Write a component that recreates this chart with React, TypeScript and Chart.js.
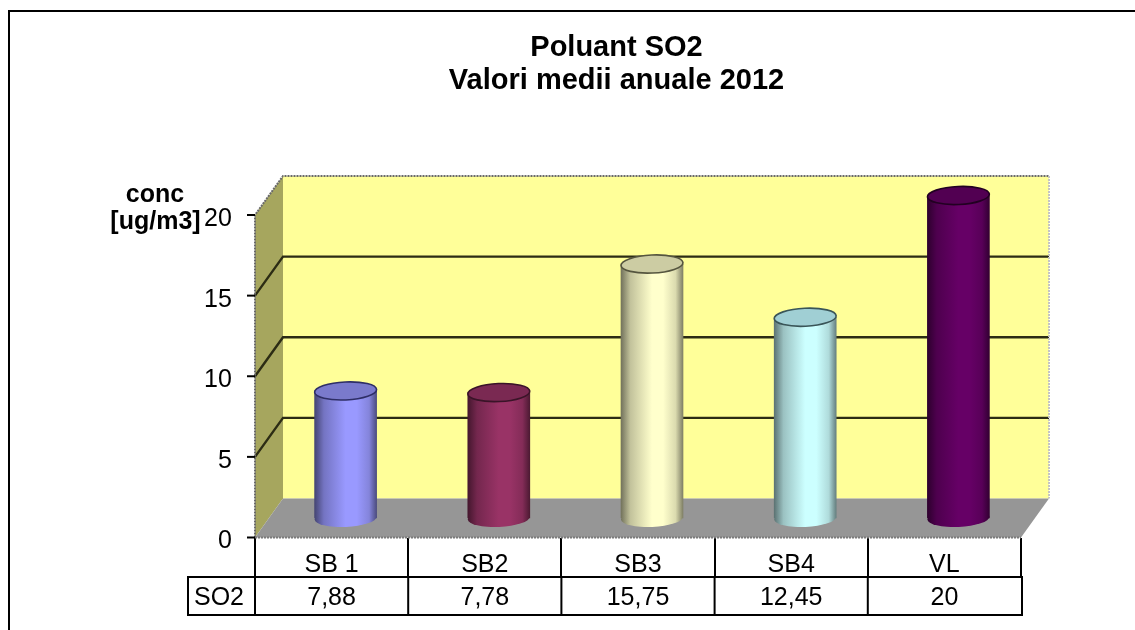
import React, { useEffect, useRef } from "react";
import { Chart, registerables } from "chart.js";

Chart.register(...registerables);

const categories = ["SB 1", "SB2", "SB3", "SB4", "VL"];
const so2Values = [7.88, 7.78, 15.75, 12.45, 20];
const tableLabels = ["7,88", "7,78", "15,75", "12,45", "20"];
const seriesName = "SO2";
const titleLines = ["Poluant SO2", "Valori medii anuale 2012"];
const axisLabelLines = ["conc", "[ug/m3]"];
const barColors = ["#9999FF", "#993366", "#FFFFCC", "#CCFFFF", "#660066"];
const capColors = ["#7A7ACC", "#7A2952", "#CCCCA3", "#A0CFD4", "#520052"];
const edgeColors = ["#2E2E66", "#3A1428", "#55553F", "#3A5558", "#220022"];

const DEPTH_X = 28;
const DEPTH_Y = -39;
const FONT = "'Liberation Sans', Arial, sans-serif";

function shade(hex: string, f: number) {
  const n = parseInt(hex.slice(1), 16);
  const c = (v: number) => Math.round(v * f);
  return `rgb(${c((n >> 16) & 255)},${c((n >> 8) & 255)},${c(n & 255)})`;
}

function bodyGradient(ctx: CanvasRenderingContext2D, left: number, right: number, color: string) {
  const g = ctx.createLinearGradient(left, 0, right, 0);
  g.addColorStop(0, shade(color, 0.45));
  g.addColorStop(0.15, shade(color, 0.76));
  g.addColorStop(0.5, shade(color, 1));
  g.addColorStop(0.68, shade(color, 1));
  g.addColorStop(0.88, shade(color, 0.86));
  g.addColorStop(1, shade(color, 0.5));
  return g;
}

const TILT = -0.045;
const CAP_RY = 9;

const scene3d = {
  id: "scene3d",
  beforeDatasetsDraw(chart: any) {
    const { ctx, scales } = chart;
    const x = scales.x;
    const y = scales.y;
    const l = x.left;
    const r = x.right;
    const b = y.getPixelForValue(0);
    const t = y.getPixelForValue(20);
    ctx.save();
    // back wall
    ctx.fillStyle = "#FFFF99";
    ctx.fillRect(l + DEPTH_X, t + DEPTH_Y, r - l, b - t);
    // side wall
    ctx.fillStyle = "#A6A65E";
    ctx.beginPath();
    ctx.moveTo(l, b);
    ctx.lineTo(l + DEPTH_X, b + DEPTH_Y);
    ctx.lineTo(l + DEPTH_X, t + DEPTH_Y);
    ctx.lineTo(l, t);
    ctx.closePath();
    ctx.fill();
    // floor
    ctx.fillStyle = "#969696";
    ctx.beginPath();
    ctx.moveTo(l, b);
    ctx.lineTo(r, b);
    ctx.lineTo(r + DEPTH_X, b + DEPTH_Y);
    ctx.lineTo(l + DEPTH_X, b + DEPTH_Y);
    ctx.closePath();
    ctx.fill();
    // grid lines on both walls
    ctx.strokeStyle = "#2c2c14";
    ctx.lineWidth = 2.4;
    y.ticks.forEach((tick: any) => {
      if (tick.value === 0 || tick.value === 20) return;
      const p = y.getPixelForValue(tick.value);
      ctx.beginPath();
      ctx.moveTo(l, p);
      ctx.lineTo(l + DEPTH_X, p + DEPTH_Y);
      ctx.lineTo(r + DEPTH_X, p + DEPTH_Y);
      ctx.stroke();
    });
    // dotted outlines
    ctx.strokeStyle = "#6a6a6a";
    ctx.lineWidth = 2;
    ctx.setLineDash([2, 1]);
    ctx.beginPath();
    ctx.moveTo(l, b);
    ctx.lineTo(l, t);
    ctx.lineTo(l + DEPTH_X, t + DEPTH_Y);
    ctx.lineTo(r + DEPTH_X, t + DEPTH_Y);
    ctx.stroke();
    ctx.strokeStyle = "#c4c4c4";
    ctx.beginPath();
    ctx.moveTo(r + DEPTH_X, t + DEPTH_Y);
    ctx.lineTo(r + DEPTH_X, b + DEPTH_Y);
    ctx.stroke();
    ctx.strokeStyle = "#7a7a7a";
    ctx.beginPath();
    ctx.moveTo(l, b);
    ctx.lineTo(r, b);
    ctx.stroke();
    ctx.setLineDash([]);
    // value axis tick marks
    ctx.strokeStyle = "#000";
    ctx.lineWidth = 2;
    y.ticks.forEach((tick: any) => {
      const p = y.getPixelForValue(tick.value);
      ctx.beginPath();
      ctx.moveTo(l - 8, p);
      ctx.lineTo(l, p);
      ctx.stroke();
    });
    ctx.restore();
  },
  beforeDatasetDraw(chart: any) {
    const { ctx } = chart;
    ctx.save();
    ctx.translate(DEPTH_X / 2, DEPTH_Y / 2);
    chart.getDatasetMeta(0).data.forEach((bar: any, i: number) => {
      const rx = bar.width / 2;
      ctx.beginPath();
      ctx.ellipse(bar.x, bar.base, rx, CAP_RY, TILT, 0, Math.PI * 2);
      ctx.fillStyle = bodyGradient(ctx, bar.x - rx, bar.x + rx, barColors[i]);
      ctx.fill();
    });
  },
  afterDatasetDraw(chart: any) {
    const { ctx } = chart;
    chart.getDatasetMeta(0).data.forEach((bar: any, i: number) => {
      const rx = bar.width / 2;
      ctx.beginPath();
      ctx.ellipse(bar.x, bar.y, rx, CAP_RY, TILT, 0, Math.PI * 2);
      ctx.fillStyle = capColors[i];
      ctx.fill();
      ctx.strokeStyle = edgeColors[i];
      ctx.lineWidth = 1.6;
      ctx.stroke();
    });
    ctx.restore();
  },
  afterDraw(chart: any) {
    const { ctx, scales } = chart;
    const x = scales.x;
    const cw = (x.right - x.left) / categories.length;
    const top = 577;
    const bottom = 615;
    const labelLeft = 188;
    ctx.save();
    // outer frame
    ctx.strokeStyle = "#000";
    ctx.lineWidth = 2;
    ctx.beginPath();
    ctx.moveTo(9, 630);
    ctx.lineTo(9, 11);
    ctx.lineTo(1135, 11);
    ctx.stroke();
    // data table
    ctx.beginPath();
    ctx.rect(labelLeft, top, x.right + 1 - labelLeft, bottom - top);
    for (let i = 0; i < categories.length; i++) {
      const vx = x.left + cw * i;
      ctx.moveTo(vx, top);
      ctx.lineTo(vx, bottom);
    }
    ctx.stroke();
    ctx.fillStyle = "#000";
    ctx.font = `25px ${FONT}`;
    ctx.textAlign = "center";
    ctx.textBaseline = "middle";
    ctx.fillText(seriesName, 219, 598);
    tableLabels.forEach((s, i) => ctx.fillText(s, x.getPixelForValue(i), 598));
    // value axis caption
    ctx.font = `bold 25px ${FONT}`;
    ctx.fillText(axisLabelLines[0], 155, 195);
    ctx.fillText(axisLabelLines[1], 155.5, 222);
    ctx.restore();
  },
};

export default function App() {
  const ref = useRef<HTMLCanvasElement>(null);
  useEffect(() => {
    const chart = new Chart(ref.current!, {
      type: "bar",
      data: {
        labels: categories,
        datasets: [
          {
            label: seriesName,
            data: so2Values,
            clip: false,
            barThickness: 62,
            borderWidth: 0,
            backgroundColor: (c: any) => {
              const i = c.dataIndex ?? 0;
              const s = c.chart.scales.x;
              const px = s ? s.getPixelForValue(i) : NaN;
              if (!Number.isFinite(px)) return barColors[i];
              return bodyGradient(c.chart.ctx, px - 31, px + 31, barColors[i]);
            },
          },
        ] as any,
      },
      options: {
        responsive: false,
        animation: false,
        layout: { padding: { left: 212, right: 114, top: 0, bottom: 32.5 } },
        plugins: {
          legend: { display: false },
          tooltip: { enabled: false },
          title: {
            display: true,
            text: titleLines,
            color: "#000",
            font: { family: FONT, size: 29, weight: "bold", lineHeight: 1.15 },
            padding: { top: 31, bottom: 117.3 },
          },
        },
        scales: {
          x: {
            afterFit: (s: any) => {
              s.height = 60;
            },
            border: { display: false },
            grid: { offset: true, drawOnChartArea: false, tickLength: 39, color: "#000", lineWidth: 2 },
            ticks: { color: "#000", font: { family: FONT, size: 25 }, padding: -26, maxRotation: 0 },
          },
          y: {
            min: 0,
            max: 20,
            afterFit: (s: any) => {
              s.width = 43;
            },
            border: { display: false },
            grid: { display: false },
            ticks: {
              stepSize: 5,
              color: "#000",
              font: { family: FONT, size: 25 },
              mirror: true,
              crossAlign: "far",
              padding: -51,
              labelOffset: 4,
            },
          },
        },
      },
      plugins: [scene3d],
    } as any);
    return () => chart.destroy();
  }, []);
  return (
    <canvas
      ref={ref}
      width={1135}
      height={630}
      style={{ position: "absolute", left: 0, top: 0, display: "block", background: "#fff", filter: "blur(0.4px)" }}
    />
  );
}
